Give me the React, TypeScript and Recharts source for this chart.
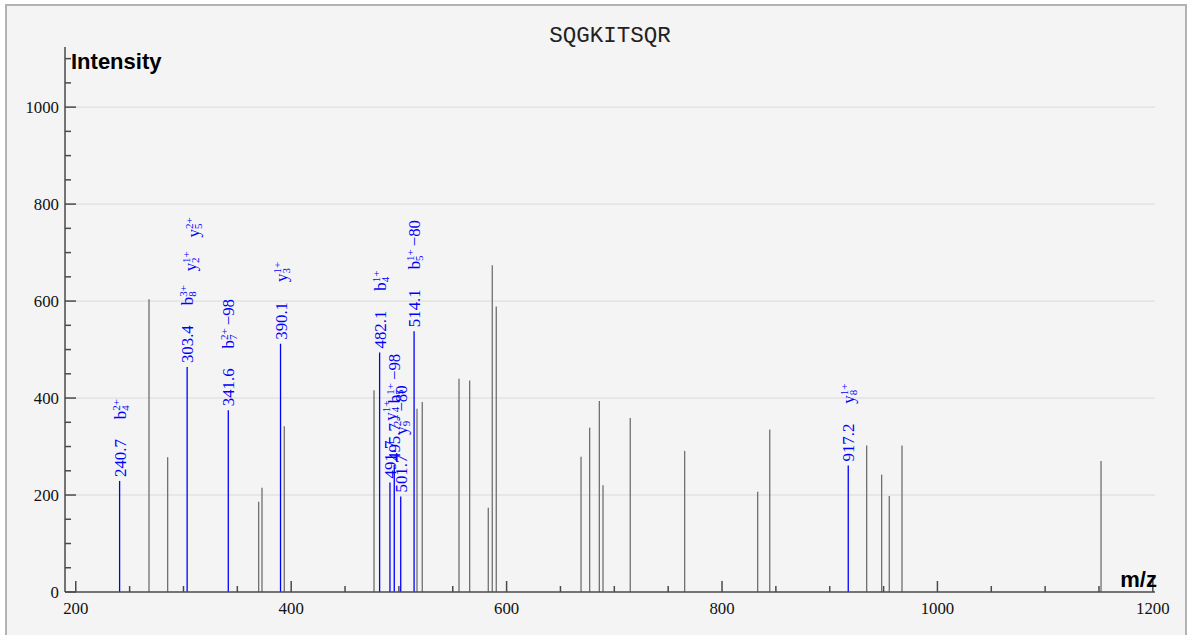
import React from 'react';
import { ComposedChart, XAxis, YAxis, ReferenceLine, Scatter } from 'recharts';

const TITLE = 'SQGKITSQR';

// unmatched peaks (grey sticks)
const otherMz = [
  268.0, 285.3, 369.8, 372.9, 393.6, 476.9, 516.8, 521.7, 555.8, 565.7, 583.0, 586.7, 590.4,
  669.1, 677.1, 686.1, 689.5, 714.8, 765.3, 833.1, 844.3, 934.3, 948.2, 955.3, 967.1, 1151.9,
];
const otherIntensity = [
  604, 278, 186, 215, 342, 416, 378, 392, 440, 436, 174, 674, 589,
  279, 339, 394, 220, 359, 291, 207, 335, 302, 242, 198, 302, 270,
];

// matched peaks (blue sticks + annotations)
const matchedMz = [240.7, 303.4, 341.6, 390.1, 482.1, 491.7, 495.7, 501.7, 514.1, 917.2];
const matchedIntensity = [229, 464, 375, 512, 494, 226, 262, 197, 538, 261];
const matchedLabels = ['240.7', '303.4', '341.6', '390.1', '482.1', '491.7', '495.7', '501.7', '514.1', '917.2'];

type Ion = { ion: string; sup: string; sub: string; loss?: string };
const matchedIons: Ion[][] = [
  [{ ion: 'b', sup: '2+', sub: '4' }],
  [
    { ion: 'b', sup: '3+', sub: '8' },
    { ion: 'y', sup: '1+', sub: '2' },
    { ion: 'y', sup: '2+', sub: '5' },
  ],
  [{ ion: 'b', sup: '2+', sub: '7', loss: '\u221298' }],
  [{ ion: 'y', sup: '1+', sub: '3' }],
  [{ ion: 'b', sup: '1+', sub: '4' }],
  [{ ion: 'y', sup: '1+', sub: '4' }],
  [{ ion: 'b', sup: '1+', sub: '5', loss: '\u221298' }],
  [{ ion: 'y', sup: '2+', sub: '9', loss: '\u221280' }],
  [{ ion: 'b', sup: '1+', sub: '5', loss: '\u221280' }],
  [{ ion: 'y', sup: '1+', sub: '8' }],
];

const xTicks = [200, 250, 300, 350, 400, 450, 500, 550, 600, 650, 700, 750, 800, 850, 900, 950, 1000, 1050, 1100, 1150, 1200];
const yTicks = [0, 50, 100, 150, 200, 250, 300, 350, 400, 450, 500, 550, 600, 650, 700, 750, 800, 850, 900, 950, 1000, 1050, 1100];
const gridValues = [200, 400, 600, 800, 1000];

const matched = matchedMz.map((mz, i) => ({
  mz,
  intensity: matchedIntensity[i],
  label: matchedLabels[i],
  ions: matchedIons[i],
}));

const SERIF = '"Liberation Serif", "Times New Roman", serif';
const MAIN_SIZE = 16.8;
const SMALL_SIZE = 11;
const AXIS_COLOR = '#4a4a4a';
const BLUE = '#0000ff';

// rough glyph width for the small charge/position text
const smallWidth = (s: string) =>
  s.split('').reduce((w, c) => w + (c === '+' ? 0.564 : 0.5) * SMALL_SIZE, 0);

const XTick = (props: any) => {
  const { x, y, payload } = props;
  const v = payload.value;
  const major = v % 200 === 0;
  return (
    <g>
      <line x1={x} x2={x} y1={y} y2={y - (major ? 11 : 6)} stroke={AXIS_COLOR} strokeWidth={1.5} />
      {major && (
        <text x={x} y={y + 22} textAnchor="middle" fontFamily={SERIF} fontSize={MAIN_SIZE} fill="#111">
          {v}
        </text>
      )}
    </g>
  );
};

const YTick = (props: any) => {
  const { x, y, payload } = props;
  const v = payload.value;
  const major = v % 200 === 0;
  return (
    <g>
      <line x1={x} x2={x + (major ? 11 : 6)} y1={y} y2={y} stroke={AXIS_COLOR} strokeWidth={1.5} />
      {major && (
        <text x={x - 6} y={y + 5.5} textAnchor="end" fontFamily={SERIF} fontSize={MAIN_SIZE} fill="#111">
          {v}
        </text>
      )}
    </g>
  );
};

const PeakLabel = (props: any) => {
  const { cx, cy, payload } = props;
  if (cx == null || cy == null) return <g />;
  const parts: React.ReactNode[] = [<tspan key="mz">{payload.label}</tspan>];
  payload.ions.forEach((ion: Ion, i: number) => {
    const supW = smallWidth(ion.sup);
    const subW = smallWidth(ion.sub);
    parts.push(
      <tspan key={`i${i}`} dx={20} dy={0}>
        {ion.ion}
      </tspan>,
      <tspan key={`p${i}`} dy={-6} fontSize={SMALL_SIZE}>
        {ion.sup}
      </tspan>,
      <tspan key={`b${i}`} dx={-supW} dy={9} fontSize={SMALL_SIZE}>
        {ion.sub}
      </tspan>,
    );
    const back = Math.max(supW - subW, 0);
    if (ion.loss) {
      parts.push(
        <tspan key={`l${i}`} dx={back + 3} dy={-3}>
          {ion.loss}
        </tspan>,
      );
    } else {
      parts.push(
        <tspan key={`r${i}`} dx={back} dy={-3}>
          {''}
        </tspan>,
      );
    }
  });
  return (
    <text
      transform={`translate(${cx},${cy}) rotate(-90)`}
      x={4}
      y={6}
      fontFamily={SERIF}
      fontSize={MAIN_SIZE}
      fill={BLUE}
    >
      {parts}
    </text>
  );
};

export default function App() {
  return (
    <div style={{ position: 'absolute', left: 0, top: 0, width: 1188, height: 635, background: '#ffffff', overflow: 'hidden' }}>
      <div
        style={{
          position: 'absolute',
          left: 5,
          top: 4,
          width: 1178,
          height: 700,
          border: '2px solid #b2b2b2',
          background: '#f4f4f4',
        }}
      />
      <div style={{ position: 'absolute', left: 0, top: 0 }}>
        <ComposedChart width={1188} height={635} margin={{ top: 47, right: 33, bottom: 13, left: 5 }}>
          <XAxis
            type="number"
            dataKey="mz"
            domain={[190, 1202]}
            allowDataOverflow
            ticks={xTicks}
            interval={0}
            tickSize={0}
            tickMargin={0}
            height={30}
            tick={<XTick />}
            axisLine={{ stroke: AXIS_COLOR, strokeWidth: 1.5 }}
            tickLine={false}
          />
          <YAxis
            type="number"
            dataKey="intensity"
            domain={[0, 1124]}
            allowDataOverflow
            ticks={yTicks}
            interval={0}
            tickSize={0}
            tickMargin={0}
            width={60}
            tick={<YTick />}
            axisLine={{ stroke: AXIS_COLOR, strokeWidth: 1.5 }}
            tickLine={false}
          />
          {gridValues.map((v) => (
            <ReferenceLine key={`g${v}`} y={v} stroke="#dadada" strokeWidth={1} />
          ))}
          {otherMz.map((mz, i) => (
            <ReferenceLine
              key={`o${i}`}
              segment={[
                { x: mz, y: 0 },
                { x: mz, y: otherIntensity[i] },
              ]}
              stroke="#707070"
              strokeWidth={1.3}
            />
          ))}
          {matchedMz.map((mz, i) => (
            <ReferenceLine
              key={`m${i}`}
              segment={[
                { x: mz, y: 0 },
                { x: mz, y: matchedIntensity[i] },
              ]}
              stroke={BLUE}
              strokeWidth={1.3}
            />
          ))}
          <Scatter data={matched} dataKey="intensity" isAnimationActive={false} shape={(p: any) => <PeakLabel {...p} />} />
        </ComposedChart>
      </div>
      <svg width={1188} height={635} style={{ position: 'absolute', left: 0, top: 0, pointerEvents: 'none' }}>
        <text x={610} y={42} textAnchor="middle" fontFamily='"Liberation Mono", "Courier New", monospace' fontSize={22.5} fill="#222">
          {TITLE}
        </text>
        <text x={71} y={68.5} fontFamily='"Liberation Sans", Arial, sans-serif' fontWeight="bold" fontSize={22} fill="#000">
          Intensity
        </text>
        <text x={1157} y={587} textAnchor="end" fontFamily='"Liberation Sans", Arial, sans-serif' fontWeight="bold" fontSize={22} fill="#000">
          m/z
        </text>
      </svg>
    </div>
  );
}
